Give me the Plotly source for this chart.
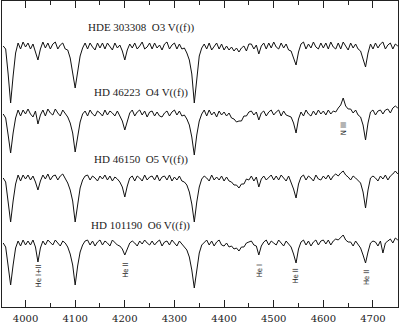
import plotly.graph_objects as go

# wavelength sampling grid (Angstrom), 5 A steps
wave = [
    3955, 3960, 3965, 3970, 3975, 3980, 3985, 3990, 3995, 4000,
    4005, 4010, 4015, 4020, 4025, 4030, 4035, 4040, 4045, 4050,
    4055, 4060, 4065, 4070, 4075, 4080, 4085, 4090, 4095, 4100,
    4105, 4110, 4115, 4120, 4125, 4130, 4135, 4140, 4145, 4150,
    4155, 4160, 4165, 4170, 4175, 4180, 4185, 4190, 4195, 4200,
    4205, 4210, 4215, 4220, 4225, 4230, 4235, 4240, 4245, 4250,
    4255, 4260, 4265, 4270, 4275, 4280, 4285, 4290, 4295, 4300,
    4305, 4310, 4315, 4320, 4325, 4330, 4335, 4340, 4345, 4350,
    4355, 4360, 4365, 4370, 4375, 4380, 4385, 4390, 4395, 4400,
    4405, 4410, 4415, 4420, 4425, 4430, 4435, 4440, 4445, 4450,
    4455, 4460, 4465, 4470, 4475, 4480, 4485, 4490, 4495, 4500,
    4505, 4510, 4515, 4520, 4525, 4530, 4535, 4540, 4545, 4550,
    4555, 4560, 4565, 4570, 4575, 4580, 4585, 4590, 4595, 4600,
    4605, 4610, 4615, 4620, 4625, 4630, 4635, 4640, 4645, 4650,
    4655, 4660, 4665, 4670, 4675, 4680, 4685, 4690, 4695, 4700,
    4705, 4710, 4715, 4720, 4725, 4730, 4735, 4740, 4745, 4750,
]

# normalised fluxes
flux_hde303308 = [
    1.00, 0.97, 0.72, 0.43, 0.70, 0.93, 1.03, 0.97, 1.04, 0.99,
    1.03, 0.97, 1.02, 0.95, 0.86, 0.97, 1.04, 0.98, 1.03, 0.97,
    1.02, 1.04, 0.97, 1.01, 1.03, 0.97, 0.96, 0.88, 0.75, 0.58,
    0.74, 0.90, 0.98, 1.03, 0.97, 1.03, 0.99, 0.96, 1.03, 0.98,
    1.03, 0.97, 1.03, 0.99, 0.96, 1.03, 0.98, 1.01, 0.95, 0.86,
    0.96, 1.02, 0.98, 1.03, 0.97, 1.00, 1.04, 0.97, 0.99, 1.03,
    0.97, 1.03, 0.98, 1.01, 0.96, 1.02, 1.04, 0.97, 1.01, 1.03,
    0.97, 1.02, 0.97, 0.98, 0.93, 0.86, 0.72, 0.43, 0.70, 0.90,
    0.98, 1.02, 0.97, 1.03, 0.96, 1.00, 1.03, 0.97, 1.02, 0.96,
    1.00, 0.96, 0.99, 0.95, 0.98, 0.94, 0.98, 1.00, 0.95, 1.02,
    1.02, 0.97, 1.01, 0.92, 1.00, 1.03, 0.97, 1.03, 0.98, 1.04,
    0.99, 0.97, 1.03, 0.98, 1.02, 0.96, 0.95, 0.88, 0.81, 0.94,
    1.02, 1.04, 0.97, 1.02, 0.98, 1.04, 0.99, 0.97, 1.03, 0.98,
    1.03, 0.97, 1.04, 0.99, 0.97, 1.03, 0.97, 1.04, 1.00, 0.96,
    1.03, 0.98, 1.02, 0.97, 0.95, 0.88, 0.79, 0.93, 1.02, 0.97,
    1.03, 0.98, 1.02, 1.04, 0.97, 1.01, 1.03, 0.97, 1.02, 1.00,
]

flux_hd46223 = [
    0.99, 0.95, 0.78, 0.60, 0.80, 0.95, 1.03, 0.97, 1.03, 0.99,
    1.04, 0.99, 0.96, 1.02, 0.89, 0.98, 1.03, 0.97, 1.04, 1.00,
    0.98, 1.04, 1.00, 0.97, 1.03, 0.99, 0.96, 0.90, 0.80, 0.61,
    0.78, 0.91, 0.99, 1.02, 0.97, 1.03, 0.99, 0.97, 1.02, 1.00,
    0.97, 1.03, 0.98, 1.02, 1.00, 0.97, 1.02, 0.97, 0.92, 0.83,
    0.93, 1.00, 1.03, 0.97, 1.01, 1.03, 0.98, 1.02, 0.96, 1.01,
    1.02, 0.97, 1.01, 0.97, 0.96, 1.00, 1.02, 0.97, 1.01, 1.03,
    0.98, 1.02, 0.97, 0.98, 0.94, 0.88, 0.76, 0.58, 0.78, 0.92,
    0.99, 1.03, 0.97, 1.03, 0.98, 1.01, 0.96, 1.02, 0.98, 1.01,
    0.97, 1.00, 0.95, 0.94, 0.91, 0.92, 0.92, 0.97, 0.97, 1.01,
    1.02, 0.98, 1.01, 0.93, 1.00, 1.02, 0.97, 1.01, 1.03, 0.98,
    1.01, 1.03, 0.97, 1.02, 0.98, 0.97, 0.96, 0.90, 0.80, 0.94,
    1.01, 0.97, 1.03, 0.99, 0.97, 1.02, 0.98, 1.03, 0.99, 1.02,
    0.98, 1.03, 0.99, 1.02, 1.01, 1.05, 1.08, 1.15, 1.07, 1.04,
    1.04, 1.00, 1.03, 0.98, 0.96, 0.88, 0.73, 0.90, 1.01, 1.03,
    0.98, 1.02, 1.03, 0.99, 1.03, 1.04, 1.00, 1.05, 1.07, 1.05,
]

flux_hd46150 = [
    1.00, 0.96, 0.76, 0.56, 0.77, 0.94, 1.03, 0.97, 1.03, 0.99,
    1.03, 0.98, 1.02, 0.96, 0.88, 0.97, 1.03, 0.99, 1.04, 0.98,
    1.02, 1.03, 0.98, 1.02, 1.04, 0.99, 0.95, 0.88, 0.77, 0.56,
    0.76, 0.90, 0.98, 1.02, 1.03, 0.98, 1.02, 1.00, 0.97, 1.02,
    0.99, 1.03, 0.98, 1.02, 0.97, 1.01, 0.99, 0.96, 0.91, 0.81,
    0.92, 1.00, 1.02, 0.97, 1.02, 1.00, 0.97, 1.03, 0.98, 1.01,
    1.02, 0.98, 1.03, 0.97, 1.01, 1.02, 0.98, 1.03, 0.97, 1.01,
    0.98, 1.02, 0.97, 0.96, 0.93, 0.86, 0.74, 0.56, 0.76, 0.91,
    0.99, 1.02, 1.00, 0.97, 1.03, 0.98, 1.01, 0.98, 1.02, 0.97,
    1.01, 0.97, 0.96, 0.93, 0.93, 0.90, 0.94, 0.94, 0.99, 0.98,
    1.02, 0.97, 1.01, 0.91, 0.99, 1.02, 0.98, 1.01, 1.03, 0.98,
    1.02, 0.98, 1.03, 1.00, 0.97, 1.02, 0.96, 0.89, 0.80, 0.94,
    1.01, 1.03, 0.98, 1.02, 1.00, 0.97, 1.03, 0.99, 0.98, 1.02,
    0.99, 1.03, 0.98, 1.02, 1.04, 1.02, 1.05, 1.07, 1.03, 1.01,
    0.98, 1.02, 1.00, 0.97, 0.95, 0.86, 0.70, 0.88, 1.00, 1.02,
    1.00, 0.97, 1.02, 0.99, 1.03, 0.98, 1.02, 1.04, 1.07, 1.04,
]

flux_hd101190 = [
    1.00, 0.96, 0.77, 0.58, 0.78, 0.95, 1.02, 0.97, 1.03, 0.98,
    1.02, 0.98, 1.03, 0.96, 0.81, 0.95, 1.02, 0.98, 1.03, 1.00,
    0.98, 1.03, 1.00, 0.97, 1.02, 1.00, 0.96, 0.89, 0.78, 0.58,
    0.77, 0.91, 0.98, 1.02, 1.03, 0.98, 1.02, 0.97, 1.01, 1.03,
    0.98, 1.02, 1.00, 0.97, 1.03, 1.00, 0.98, 0.97, 0.94, 0.88,
    0.95, 1.00, 1.02, 1.00, 0.97, 1.02, 0.99, 1.03, 1.00, 0.98,
    1.02, 0.98, 1.01, 1.03, 0.97, 1.01, 1.02, 0.98, 1.03, 1.00,
    0.97, 1.02, 0.99, 0.97, 0.93, 0.86, 0.73, 0.55, 0.75, 0.90,
    0.98, 1.01, 1.03, 0.98, 1.02, 0.97, 1.01, 1.03, 0.98, 0.97,
    1.00, 0.96, 0.97, 0.94, 0.95, 0.92, 0.96, 0.96, 1.00, 1.01,
    1.02, 0.98, 0.97, 0.88, 0.97, 1.01, 1.03, 0.98, 1.02, 1.00,
    0.98, 1.03, 1.00, 0.97, 1.02, 0.99, 0.96, 0.89, 0.80, 0.94,
    1.01, 1.03, 0.98, 1.02, 0.97, 1.01, 1.03, 0.98, 1.02, 1.03,
    0.99, 1.03, 0.98, 1.02, 1.04, 1.03, 1.06, 1.08, 1.03, 1.01,
    1.01, 0.97, 1.02, 0.99, 0.95, 0.88, 0.80, 0.91, 1.00, 1.02,
    1.01, 0.97, 1.02, 0.90, 1.00, 1.02, 1.04, 1.00, 1.05, 1.03,
]

star_labels = ["HDE 303308  O3 V((f))", "HD 46223  O4 V((f))",
               "HD 46150  O5 V((f))", "HD 101190  O6 V((f))"]
spectra = [flux_hde303308, flux_hd46223, flux_hd46150, flux_hd101190]

# line identifications (wavelength, label)
id_waves = [4026, 4200, 4471, 4542, 4686]
id_names = ["He I+II", "He II", "He I", "He II", "He II"]
niii_wave = 4640
niii_name = "N III"

xtick_vals = [4000, 4100, 4200, 4300, 4400, 4500, 4600, 4700]

# layout (vertical offsets of each spectrum, label positions)
offsets = [1.61, 0.94, 0.29, -0.36]
label_y = [2.80, 2.15, 1.48, 0.82]
id_y = [0.31, 0.37, 0.36, 0.31, 0.29]

fig = go.Figure()
for flux, off in zip(spectra, offsets):
    fig.add_trace(go.Scatter(
        x=wave, y=[f + off for f in flux], mode="lines",
        line=dict(color="#111111", width=1), hoverinfo="skip",
        showlegend=False))

annotations = []
for lab, ly in zip(star_labels, label_y):
    annotations.append(dict(
        x=4232, y=ly, xref="x", yref="y", text=lab, showarrow=False,
        font=dict(family="Liberation Serif", size=11, color="#222222")))
for w, name, iy in zip(id_waves, id_names, id_y):
    annotations.append(dict(
        x=w, y=iy, xref="x", yref="y", text=name, showarrow=False,
        textangle=-90,
        font=dict(family="DejaVu Sans Condensed, DejaVu Sans", size=7.5,
                  color="#222222")))
annotations.append(dict(
    x=niii_wave, y=1.78, xref="x", yref="y", text=niii_name,
    showarrow=False, textangle=-90,
    font=dict(family="DejaVu Sans Condensed, DejaVu Sans", size=7.5,
              color="#222222")))

fig.update_layout(
    width=400, height=326,
    margin=dict(l=2, r=2, t=1, b=19),
    paper_bgcolor="white", plot_bgcolor="white",
    annotations=annotations,
    hovermode=False,
    xaxis=dict(
        range=[3952.6, 4750.4], showgrid=False, zeroline=False,
        showline=True, linecolor="#222222", linewidth=1, mirror="ticks",
        ticks="inside", ticklen=7, tickcolor="#222222",
        tickvals=xtick_vals, ticklabelstandoff=2,
        tickfont=dict(family="DejaVu Serif", size=10, color="#222222"),
        minor=dict(dtick=50, tick0=3950, ticks="inside", ticklen=4,
                   tickcolor="#222222", showgrid=False),
    ),
    yaxis=dict(
        range=[0, 3.06], showgrid=False, zeroline=False,
        showline=True, linecolor="#222222", linewidth=1, mirror=True,
        showticklabels=False, ticks="",
    ),
)

fig.write_html(
    "out.html",
    config={"displayModeBar": False, "staticPlot": True},
    post_script="document.body.style.margin='0';document.body.style.padding='0';",
)
